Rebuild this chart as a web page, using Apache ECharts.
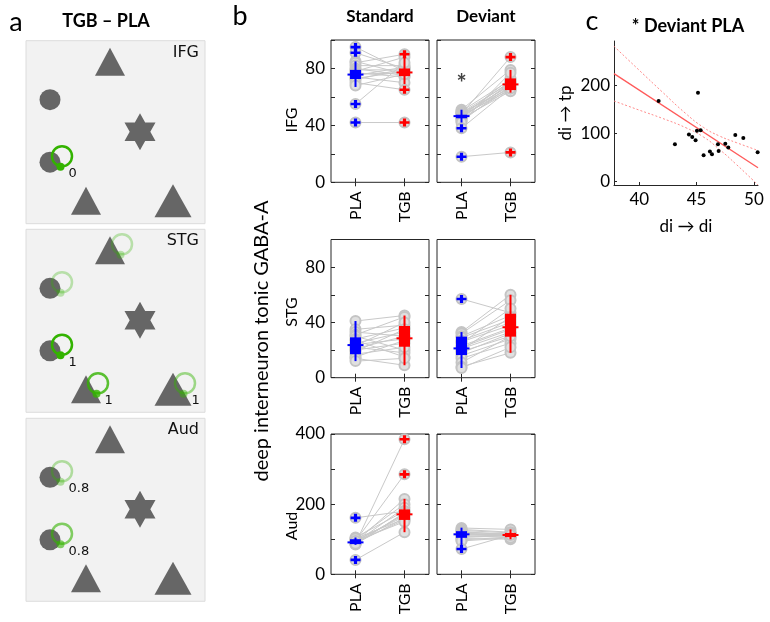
<!DOCTYPE html>
<html><head><meta charset="utf-8">
<script src="https://cdn.jsdelivr.net/npm/echarts@6/dist/echarts.min.js"></script>
<style>html,body{margin:0;padding:0;background:#fff}#c{width:770px;height:622px}</style>
</head><body><div id="c"></div>
<script>
// ================= DATA =================
// Panel a: DCM schematic (node layout in panel units, self-connection modulations)
const aRegions = ['IFG', 'STG', 'Aud'];
const aNodeShape = ['tri', 'circ', 'star', 'circ', 'tri', 'triBig'];
const aNodeX = [84, 24, 114, 24, 60, 147];
const aNodeY = [21, 59, 91, 121.5, 160, 160];
const ifgSelfNode = [3];            const ifgSelfLabel = ['0'];           const ifgSelfStrength = [1];
const stgSelfNode = [0, 1, 3, 4, 5]; const stgSelfLabel = ['', '', '1', '1', '1']; const stgSelfStrength = [0.3, 0.3, 1, 0.8, 0.45];
const audSelfNode = [1, 3];          const audSelfLabel = ['0.8', '0.8'];  const audSelfStrength = [0.35, 0.6];

// Panel b: paired subject values (PLA -> TGB) and box statistics [lo, q1, median, q3, hi]
const drugs = ['PLA', 'TGB'];
const conditions = ['Standard', 'Deviant'];
const rowNames = ['IFG', 'STG', 'Aud'];

const ifgStdPLA = [95, 91, 85, 84, 82, 80, 79, 78, 77, 76, 75, 74, 73, 72, 70, 68, 55, 42];
const ifgStdTGB = [78, 80, 76, 90, 82, 75, 79, 88, 74, 77, 81, 70, 78, 80, 65, 76, 84, 42];
const ifgStdBoxPLA = [67, 72.6, 75.7, 79, 85];
const ifgStdBoxTGB = [69, 74.6, 77.2, 80, 88];

const ifgDevPLA = [51, 50, 49, 49, 48, 48, 47, 47, 46, 46, 46, 45, 45, 44, 43, 42, 38, 18];
const ifgDevTGB = [79, 72, 70, 66, 88, 68, 71, 65, 69, 67, 73, 64, 70, 66, 68, 77, 66, 21];
const ifgDevBoxPLA = [42, 45, 46.5, 47.5, 51];
const ifgDevBoxTGB = [63, 64.8, 68.8, 73, 79];

const stgStdPLA = [41, 35, 33, 31, 30, 28, 27, 25, 24, 23, 22, 21, 20, 19, 17, 15, 14, 12];
const stgStdTGB = [45, 38, 30, 44, 20, 36, 15, 33, 28, 40, 18, 30, 25, 35, 22, 27, 9, 14];
const stgStdBoxPLA = [12, 17, 23.6, 29.2, 41];
const stgStdBoxTGB = [9, 22.4, 28.5, 37.4, 45];

const stgDevPLA = [57, 33, 32, 30, 29, 27, 26, 25, 23, 22, 21, 20, 19, 18, 16, 14, 11, 8, 7];
const stgDevTGB = [47, 60, 56, 45, 42, 40, 38, 50, 36, 35, 33, 44, 30, 32, 28, 25, 30, 18, 22];
const stgDevBoxPLA = [7, 16.4, 21.2, 29.7, 33];
const stgDevBoxTGB = [18, 29.7, 36.5, 46.3, 60];

const audStdPLA = [88, 95, 92, 100, 90, 105, 85, 93, 97, 88, 102, 91, 95, 161, 87, 41];
const audStdTGB = [385, 285, 215, 200, 190, 180, 175, 170, 165, 160, 158, 155, 150, 180, 175, 120];
const audStdBoxPLA = [84, 86, 91, 100, 105];
const audStdBoxTGB = [120, 155, 171, 185, 215];

const audDevPLA = [132, 128, 125, 122, 120, 118, 116, 114, 112, 110, 108, 105, 102, 98, 95, 72];
const audDevTGB = [128, 120, 118, 112, 115, 110, 113, 108, 116, 105, 112, 110, 100, 106, 104, 112];
const audDevBoxPLA = [74, 104, 114, 123, 133];
const audDevBoxTGB = [100, 106, 112, 118, 128];

const ifgDevStarValue = 73; // significance marker position (PLA, Deviant IFG)

// Panel c: scatter di->di vs di->tp with regression line and 95% bands
const cDiDi = [41.69, 43.11, 45.12, 44.33, 44.62, 44.91, 45.03, 45.35, 45.61, 46.16, 46.34, 46.86, 46.92, 47.5, 47.76, 48.37, 49.07, 50.32];
const cDiTp = [167, 77, 184, 97, 92, 85, 105, 106, 54, 62, 56, 77, 63, 78, 70, 96, 90, 60];
const cFitX = [37.8, 50.35];
const cFitY = [224, 28];
const cBandX = [37.8, 40, 42, 44, 45.6, 47, 48.5, 50.35];
const cBandUp = [281, 231, 186, 142, 112, 94, 80, 64];
const cBandLo = [167, 148, 131, 112, 92, 66, 34, -8];
const cXTicks = [40, 45, 50];
const cYTicks = [0, 100, 200];

// ================= CHART =================
const F = 'Lato, "Open Sans", sans-serif';
const FD = '"DejaVu Sans", sans-serif';
const GREEN = [51, 179, 0];
const grid = [], xAxis = [], yAxis = [], series = [], graphic = [];

// ---- Panel a ----
const aTops = [40.7, 229.3, 418.3];
const selfNodes = [ifgSelfNode, stgSelfNode, audSelfNode];
const selfLabels = [ifgSelfLabel, stgSelfLabel, audSelfLabel];
const selfStr = [ifgSelfStrength, stgSelfStrength, audSelfStrength];
const starPath = 'path://M0,-1L0.2887,-0.5L0.866,-0.5L0.577,0L0.866,0.5L0.2887,0.5L0,1L-0.2887,0.5L-0.866,0.5L-0.577,0L-0.866,-0.5L-0.2887,-0.5Z';
function nodeSym(s) {
  if (s === 'tri') return { symbol: 'triangle', symbolSize: [30, 28] };
  if (s === 'triBig') return { symbol: 'triangle', symbolSize: [37, 33] };
  if (s === 'circ') return { symbol: 'circle', symbolSize: 21 };
  return { symbol: starPath, symbolSize: [31, 37] };
}
aRegions.forEach((reg, k) => {
  const gi = grid.length;
  grid.push({ left: 26, top: aTops[k], width: 179, height: 183, show: true, backgroundColor: '#f2f2f2', borderColor: '#dcdcdc', borderWidth: 1 });
  const xi = xAxis.length, yi = yAxis.length;
  xAxis.push({ gridIndex: gi, type: 'value', min: 0, max: 179, show: false });
  yAxis.push({ gridIndex: gi, type: 'value', min: 0, max: 183, inverse: true, show: false });
  series.push({
    type: 'scatter', xAxisIndex: xi, yAxisIndex: yi, z: 2, silent: true,
    itemStyle: { color: '#666666', opacity: 1 },
    data: aNodeX.map((x, n) => Object.assign({ value: [x, aNodeY[n]] }, nodeSym(aNodeShape[n])))
  });
  const nodes = selfNodes[k];
  series.push({
    type: 'scatter', xAxisIndex: xi, yAxisIndex: yi, z: 3, silent: true, symbol: 'circle', symbolSize: 20,
    data: nodes.map((n, j) => ({
      value: [aNodeX[n] + 12, aNodeY[n] - 6],
      itemStyle: { color: 'rgba(0,0,0,0)', borderColor: `rgba(${GREEN},${selfStr[k][j]})`, borderWidth: 2.5, opacity: 1 }
    }))
  });
  series.push({
    type: 'scatter', xAxisIndex: xi, yAxisIndex: yi, z: 4, silent: true, symbol: 'circle', symbolSize: 8,
    data: nodes.map((n, j) => ({
      value: [aNodeX[n] + 10.5, aNodeY[n] + 4.5],
      itemStyle: { color: `rgba(${GREEN},${selfStr[k][j]})`, opacity: 1 },
      label: { show: selfLabels[k][j] !== '', formatter: selfLabels[k][j], position: 'right', offset: [-1, 7], color: '#111', fontSize: 13, fontFamily: FD }
    }))
  });
  graphic.push({ type: 'text', right: 770 - 199, top: aTops[k] + 4, style: { text: reg, fontSize: 16, fontFamily: FD, fill: '#111', align: 'right' } });
});

// ---- Panel b ----
const bData = [
  [[ifgStdPLA, ifgStdTGB, ifgStdBoxPLA, ifgStdBoxTGB], [ifgDevPLA, ifgDevTGB, ifgDevBoxPLA, ifgDevBoxTGB]],
  [[stgStdPLA, stgStdTGB, stgStdBoxPLA, stgStdBoxTGB], [stgDevPLA, stgDevTGB, stgDevBoxPLA, stgDevBoxTGB]],
  [[audStdPLA, audStdTGB, audStdBoxPLA, audStdBoxTGB], [audDevPLA, audDevTGB, audDevBoxPLA, audDevBoxTGB]]
];
const bLeft = [331, 437], bWidth = 98;
const bTop = [40, 239.5, 434], bHeight = [142.3, 138.2, 140.3];
const bMax = [100, 100, 400], bInt = [20, 20, 100], bLab = [40, 40, 200];
const rowLabelY = [120, 312, 526];
const cols = ['#0000ff', '#ff0000'];
const AX = '#262626';
const plusPath = 'path://M2.7,0H5.3V2.7H8V5.3H5.3V8H2.7V5.3H0V2.7H2.7Z';

function boxRender(params, api) {
  const c = api.value(0);
  const lo = api.coord([c, api.value(1)]), q1 = api.coord([c, api.value(2)]), md = api.coord([c, api.value(3)]),
        q3 = api.coord([c, api.value(4)]), hi = api.coord([c, api.value(5)]);
  const x = lo[0], col = cols[c];
  return { type: 'group', children: [
    { type: 'line', shape: { x1: x, y1: lo[1], x2: x, y2: hi[1] }, style: { stroke: col, lineWidth: 2 } },
    { type: 'rect', shape: { x: x - 5.5, y: q3[1], width: 11, height: Math.max(q1[1] - q3[1], 1) }, style: { fill: col } },
    { type: 'line', shape: { x1: x - 8, y1: md[1], x2: x + 8, y2: md[1] }, style: { stroke: col, lineWidth: 2 } }
  ] };
}
function pairRender(params, api) {
  const a = api.coord([0, api.value(1)]), b = api.coord([1, api.value(2)]);
  return { type: 'line', shape: { x1: a[0], y1: a[1], x2: b[0], y2: b[1] }, style: { stroke: '#c9c9c9', lineWidth: 1 } };
}

for (let r = 0; r < 3; r++) {
  for (let c = 0; c < 2; c++) {
    const [pla, tgb, bp, bt] = bData[r][c];
    const gi = grid.length;
    grid.push({ left: bLeft[c], top: bTop[r], width: bWidth, height: bHeight[r], show: true, borderColor: AX, borderWidth: 1, backgroundColor: '#fff' });
    const xi = xAxis.length;
    xAxis.push({ gridIndex: gi, type: 'category', data: drugs, boundaryGap: true, position: 'bottom',
      axisLine: { show: false },
      axisTick: { show: true, inside: true, length: 4, alignWithLabel: true, lineStyle: { color: AX } },
      axisLabel: { rotate: 90, fontSize: 16, margin: 9, color: '#000', fontFamily: F, interval: 0 } });
    xAxis.push({ gridIndex: gi, type: 'category', data: drugs, boundaryGap: true, position: 'top',
      axisLine: { show: false },
      axisTick: { show: true, inside: true, length: 4, alignWithLabel: true, lineStyle: { color: AX } },
      axisLabel: { show: false } });
    const yi = yAxis.length;
    const yMaxV = bMax[r], labStep = bLab[r];
    yAxis.push({ gridIndex: gi, type: 'value', min: 0, max: yMaxV, interval: bInt[r], position: 'left',
      axisLine: { show: false }, splitLine: { show: false },
      axisTick: { show: true, inside: true, length: 4, lineStyle: { color: AX } },
      axisLabel: { show: c === 0, fontSize: 17, margin: 6, color: '#000', fontFamily: F,
        formatter: v => (v % labStep === 0 ? String(v) : '') } });
    yAxis.push({ gridIndex: gi, type: 'value', min: 0, max: yMaxV, interval: bInt[r], position: 'right',
      axisLine: { show: false }, splitLine: { show: false },
      axisTick: { show: true, inside: true, length: 4, lineStyle: { color: AX } },
      axisLabel: { show: false } });

    series.push({ type: 'custom', xAxisIndex: xi, yAxisIndex: yi, z: 1, silent: true, clip: false,
      encode: { x: 0, y: [1, 2] }, renderItem: pairRender,
      data: pla.map((v, i) => [0, v, tgb[i]]) });
    series.push({ type: 'scatter', xAxisIndex: xi, yAxisIndex: yi, z: 2, silent: true, symbol: 'circle', symbolSize: 10,
      itemStyle: { color: '#e0e0e0', borderColor: '#c4c4c4', borderWidth: 2, opacity: 1 },
      data: pla.map(v => [0, v]).concat(tgb.map(v => [1, v])) });
    series.push({ type: 'custom', xAxisIndex: xi, yAxisIndex: yi, z: 3, silent: true,
      encode: { x: 0, y: [1, 2, 3, 4, 5] }, renderItem: boxRender,
      data: [[0].concat(bp), [1].concat(bt)] });
    const outs = [];
    pla.forEach(v => { if (v < bp[0] || v > bp[4]) outs.push({ value: [0, v], itemStyle: { color: cols[0], opacity: 1 } }); });
    tgb.forEach(v => { if (v < bt[0] || v > bt[4]) outs.push({ value: [1, v], itemStyle: { color: cols[1], opacity: 1 } }); });
    series.push({ type: 'scatter', xAxisIndex: xi, yAxisIndex: yi, z: 4, silent: true, symbol: plusPath, symbolSize: [10, 8], data: outs });
    if (r === 0 && c === 1) {
      series.push({ type: 'scatter', xAxisIndex: xi, yAxisIndex: yi, z: 5, silent: true, symbolSize: 1,
        itemStyle: { color: 'rgba(0,0,0,0)' },
        data: [[0, ifgDevStarValue]],
        label: { show: true, formatter: '*', position: 'inside', offset: [0, 6], fontSize: 24, fontWeight: 'bold', color: '#111', fontFamily: F } });
    }
  }
}

// ---- Panel c ----
{
  const gi = grid.length;
  grid.push({ left: 614, top: 41, width: 144, height: 144 });
  const xi = xAxis.length, yi = yAxis.length;
  xAxis.push({ gridIndex: gi, type: 'value', min: 37.8, max: 50.35, name: 'di \u2192 di', nameLocation: 'middle', nameGap: 33,
    nameTextStyle: { fontSize: 17, fontFamily: F, color: '#000' },
    axisLine: { show: true, onZero: false, lineStyle: { color: AX } }, splitLine: { show: false },
    axisTick: { show: true, inside: true, length: 3, customValues: cXTicks, lineStyle: { color: AX } },
    axisLabel: { customValues: cXTicks, fontSize: 17, margin: 6, color: '#000', fontFamily: F } });
  yAxis.push({ gridIndex: gi, type: 'value', min: -8, max: 292, name: 'di \u2192 tp', nameLocation: 'middle', nameGap: 40, nameRotate: 90,
    nameTextStyle: { fontSize: 17, fontFamily: F, color: '#000' },
    axisLine: { show: true, onZero: false, lineStyle: { color: AX } }, splitLine: { show: false },
    axisTick: { show: true, inside: true, length: 3, customValues: cYTicks, lineStyle: { color: AX } },
    axisLabel: { customValues: cYTicks, fontSize: 17, margin: 4, color: '#000', fontFamily: F } });
  series.push({ type: 'line', xAxisIndex: xi, yAxisIndex: yi, silent: true, symbol: 'none', smooth: true,
    lineStyle: { color: '#ff8a8a', width: 1, type: [2, 2] }, data: cBandX.map((x, i) => [x, cBandUp[i]]) });
  series.push({ type: 'line', xAxisIndex: xi, yAxisIndex: yi, silent: true, symbol: 'none', smooth: true,
    lineStyle: { color: '#ff8a8a', width: 1, type: [2, 2] }, data: cBandX.map((x, i) => [x, cBandLo[i]]) });
  series.push({ type: 'line', xAxisIndex: xi, yAxisIndex: yi, silent: true, symbol: 'none',
    lineStyle: { color: '#ff5a5a', width: 1.3 }, data: cFitX.map((x, i) => [x, cFitY[i]]) });
  series.push({ type: 'scatter', xAxisIndex: xi, yAxisIndex: yi, silent: true, z: 5, symbolSize: 4, clip: false,
    itemStyle: { color: '#000', opacity: 1 }, data: cDiDi.map((x, i) => [x, cDiTp[i]]) });
}

// ---- Titles & labels ----
graphic.push(
  { type: 'text', x: 16, y: 22, style: { text: 'a', fontSize: 27, fontFamily: F, fill: '#000', align: 'center', verticalAlign: 'middle' } },
  { type: 'text', x: 106, y: 21, style: { text: 'TGB \u2013 PLA', fontSize: 18, fontWeight: 'bold', fontFamily: F, fill: '#000', align: 'center', verticalAlign: 'middle' } },
  { type: 'text', x: 240, y: 16, style: { text: 'b', fontSize: 27, fontFamily: F, fill: '#000', align: 'center', verticalAlign: 'middle' } },
  { type: 'text', x: bLeft[0] + bWidth / 2, y: 17, style: { text: conditions[0], fontSize: 17, fontWeight: 'bold', fontFamily: F, fill: '#000', align: 'center', verticalAlign: 'middle' } },
  { type: 'text', x: bLeft[1] + bWidth / 2, y: 17, style: { text: conditions[1], fontSize: 17, fontWeight: 'bold', fontFamily: F, fill: '#000', align: 'center', verticalAlign: 'middle' } },
  { type: 'text', x: 592, y: 21, style: { text: 'c', fontSize: 27, fontFamily: F, fill: '#000', align: 'center', verticalAlign: 'middle' } },
  { type: 'text', x: 688, y: 26, style: { text: '* Deviant PLA', fontSize: 18, fontWeight: 'bold', fontFamily: F, fill: '#000', align: 'center', verticalAlign: 'middle' } },
  { type: 'text', x: 262, y: 341, rotation: Math.PI / 2, style: { text: 'deep interneuron tonic GABA-A', fontSize: 20, fontFamily: F, fill: '#000', align: 'center', verticalAlign: 'middle' } }
);
rowNames.forEach((n, r) => {
  graphic.push({ type: 'text', x: 292, y: rowLabelY[r], rotation: Math.PI / 2,
    style: { text: n, fontSize: 16, fontFamily: F, fill: '#000', align: 'center', verticalAlign: 'middle' } });
});

const chart = echarts.init(document.getElementById('c'), null, { renderer: 'canvas' });
chart.setOption({ animation: false, backgroundColor: '#fff', grid, xAxis, yAxis, series, graphic });
</script>
</body></html>
